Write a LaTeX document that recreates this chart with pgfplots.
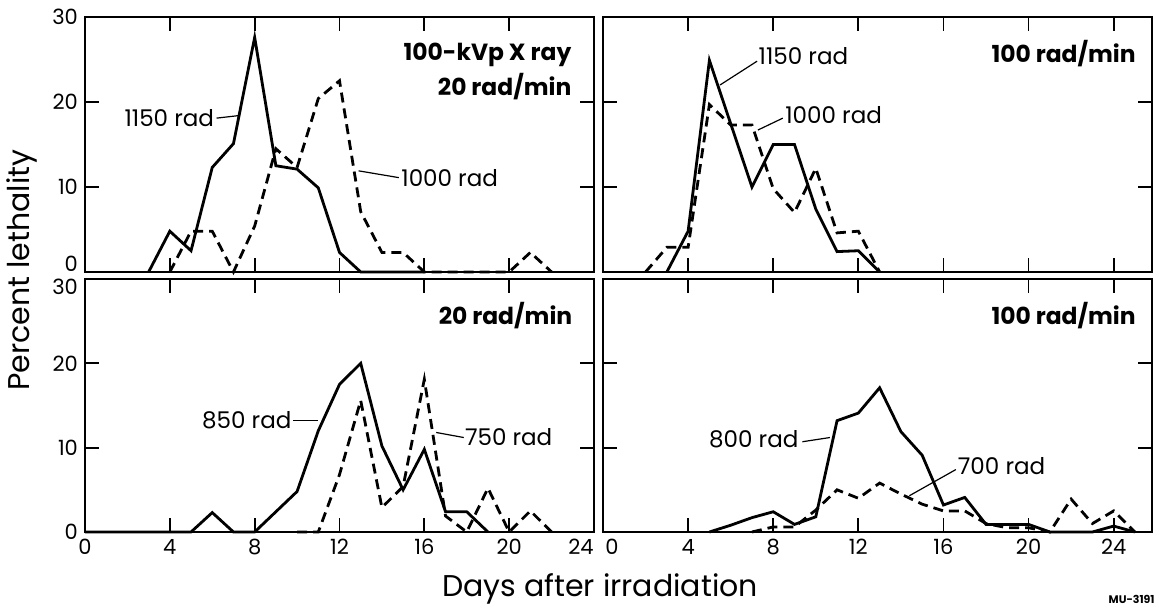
\documentclass[border=0pt]{standalone}
\usepackage{fontspec}
\setmainfont{Poppins}
\usepackage{pgfplots}
\pgfplotsset{compat=1.18}

\pgfplotsset{
  panel/.style={
    scale only axis, anchor=south west,
    xmin=0, ymin=0, ymax=30,
    xtick={0,4,...,24}, ytick={0,10,20,30},
    tick align=inside, major tick length=7pt,
    axis line style={line width=1.1pt},
    every tick/.style={black, line width=0.9pt},
    tick label style={font=\fontsize{10.5}{12}\selectfont},
    /pgf/number format/assume math mode=true,
    clip=false,
  },
}
\tikzset{
  sol/.style={black, line width=1.4pt},
  das/.style={black, line width=1.4pt, dash pattern=on 5pt off 3pt},
  lab/.style={font=\fontsize{11.5}{13}\selectfont, inner sep=0pt},
  ttl/.style={font=\fontsize{11.7}{14}\selectfont\bfseries, inner sep=0pt, anchor=east},
  lead/.style={black, line width=0.6pt},
  tl/.style={font=\fontsize{10.5}{12}\selectfont, inner xsep=0.3333em, inner ysep=0pt},
  tlx/.style={font=\fontsize{10.5}{12}\selectfont, inner xsep=0pt, inner ysep=0.3333em},
}

\begin{document}
\begin{tikzpicture}
% top left
\begin{axis}[panel, at={(42.5pt,168pt)}, width=254.5pt, height=127.5pt, xmax=24,
    xticklabels={}, yticklabels={,10,20,30}]
  \addplot[sol, no markers] coordinates {(3,0)(4,4.8)(5,2.5)(6,12.3)(7,15.1)(8,27.6)(9,12.5)(10,12.1)(11,9.9)(12,2.3)(13,0)(16,0)};
  \addplot[das, no markers] coordinates {(4,0)(5,4.8)(6,4.8)(7,0)(8,5.4)(9,14.5)(10,12.3)(11,20.4)(12,22.5)(13,7.1)(14,2.3)(15,2.3)(16,0)(20,0)(21,2.3)(22,0)};
  \node[tl, anchor=south east] at (axis cs:0,0) {0};
  \node[lab, anchor=east] at (axis cs:6.1,18.1) {1150 rad};
  \draw[lead] (axis cs:6.2,18.1) -- (axis cs:7.25,18.4);
  \node[lab, anchor=west] at (axis cs:14.9,11.1) {1000 rad};
  \draw[lead] (axis cs:12.9,11.9) -- (axis cs:14.8,11.1);
  \node[ttl] at (axis cs:22.95,25.5) {100-kVp X ray};
  \node[ttl] at (axis cs:22.95,21.8) {20 rad/min};
\end{axis}
% top right
\begin{axis}[panel, at={(301.5pt,168pt)}, width=274.5pt, height=127.5pt, xmax=25.8,
    xticklabels={}, yticklabels={}]
  \addplot[sol, no markers] coordinates {(3,0)(4,4.8)(5,24.9)(7,10)(8,15)(9,15)(10,7.4)(11,2.4)(12,2.5)(13,0)};
  \addplot[das, no markers] coordinates {(2,0)(3,2.9)(4,2.9)(5,19.7)(6,17.3)(7,17.3)(8,9.8)(9,7)(10,12.2)(11,4.6)(12,4.8)(13,0)};
  \node[lab, anchor=west] at (axis cs:7.3,25.4) {1150 rad};
  \draw[lead] (axis cs:7.24,24.8) -- (axis cs:5.5,22.0);
  \node[lab, anchor=west] at (axis cs:8.55,18.5) {1000 rad};
  \draw[lead] (axis cs:8.45,18.1) -- (axis cs:7.28,16.7);
  \node[ttl] at (axis cs:25.05,25.7) {100 rad/min};
\end{axis}
% bottom left
\begin{axis}[panel, at={(42.5pt,38pt)}, width=254.5pt, height=126.5pt, xmax=24,
    xticklabels={0,4,8,12,16,20,}, yticklabels={0,10,20,}]
  \addplot[sol, no markers] coordinates {(0,0)(5,0)(6,2.3)(7,0)(8,0)(9,2.4)(10,4.8)(11,12)(12,17.5)(13,20)(14,10.2)(15,5)(16,9.8)(17,2.4)(18,2.4)(19,0)};
  \addplot[das, no markers] coordinates {(10,0)(11,0)(12,6.8)(13,15.6)(14,2.9)(15,5.4)(16,18.1)(17,1.9)(18,0)(19,5.2)(20,0)(21,2.5)(22,0)};
  \node[tl, anchor=north east] at (axis cs:0,30) {30};
  \node[tlx, anchor=north east] at (axis cs:24,0) {24};
  \node[lab, anchor=east] at (axis cs:9.75,13.3) {850 rad};
  \draw[lead] (axis cs:9.83,13.2) -- (axis cs:11.0,13.2);
  \node[lab, anchor=west] at (axis cs:17.9,11.2) {750 rad};
  \draw[lead] (axis cs:16.56,11.8) -- (axis cs:17.86,11.2);
  \node[ttl] at (axis cs:22.99,25.7) {20 rad/min};
\end{axis}
% bottom right
\begin{axis}[panel, at={(301.5pt,38pt)}, width=274.5pt, height=126.5pt, xmax=25.8,
    xticklabels={,4,8,12,16,20,24}, yticklabels={}]
  \addplot[sol, no markers] coordinates {(5,0)(6,0.8)(7,1.7)(8,2.4)(9,0.9)(10,1.8)(11,13.2)(12,14.1)(13,17.1)(14,11.9)(15,9.1)(16,3.2)(17,4.1)(18,0.9)(19,0.9)(20,0.9)(21,0)(23,0)(24,0.7)(25,0)};
  \addplot[das, no markers] coordinates {(7,0)(8,0.6)(9,0.6)(10,2.6)(11,5)(12,4)(13,5.8)(14,4.5)(15,3.3)(16,2.5)(17,2.5)(18,1)(19,0.5)(20,0.5)(21,0)(22,3.9)(23,1)(24,2.5)(25,0)};
  \node[tlx, anchor=north west, xshift=1pt] at (axis cs:0,0) {0};
  \node[lab, anchor=east] at (axis cs:9.2,11.0) {800 rad};
  \draw[lead] (axis cs:9.37,10.7) -- (axis cs:10.66,11.2);
  \node[lab, anchor=west] at (axis cs:16.66,7.8) {700 rad};
  \draw[lead] (axis cs:16.58,7.4) -- (axis cs:14.4,4.3);
  \node[ttl] at (axis cs:25.05,25.7) {100 rad/min};
\end{axis}
\node[rotate=90, font=\fontsize{15}{17}\selectfont] at (11pt,169pt) {Percent lethality};
\node[anchor=base, font=\fontsize{15}{17}\selectfont] at (300pt,5.5pt) {Days after irradiation};
\node[anchor=base east, font=\fontsize{5.5}{6}\selectfont\bfseries, inner sep=0pt] at (577.5pt,2pt) {MU-3191};
\pgfresetboundingbox
\useasboundingbox (0,0) rectangle (578.5pt,304pt);
\end{tikzpicture}
\end{document}
